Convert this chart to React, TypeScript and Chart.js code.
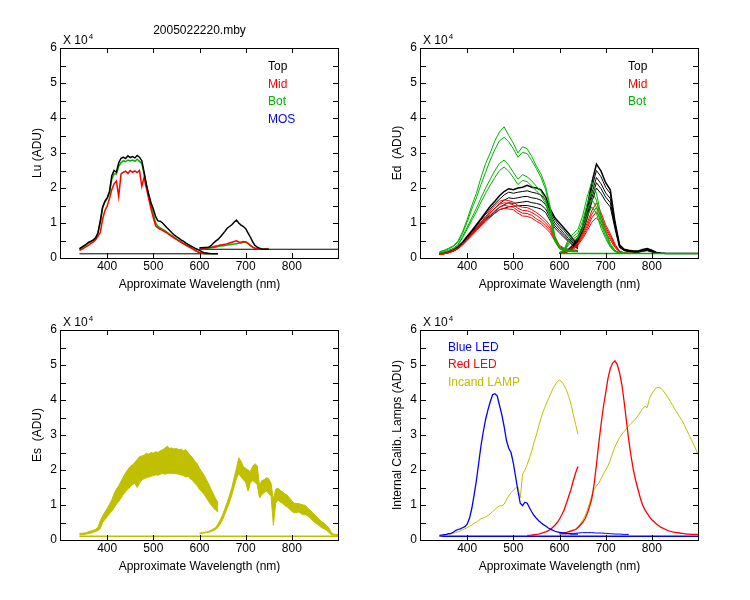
import React, { useEffect, useRef } from "react";
import { Chart, registerables } from "chart.js";

Chart.register(...registerables);

const FONT_FAMILY = "'Liberation Sans', Arial, Helvetica, sans-serif";
Chart.defaults.font.family = FONT_FAMILY;
Chart.defaults.font.size = 12;
Chart.defaults.color = "#000";

// ---------- colours ----------
const BLACK = "#000000";
const RED = "#FF0000";
const GREEN = "#00B000";
const BLUE = "#0000FF";
const OLIVE = "#C0C000";

// ---------- texts / axes ----------
const FILE_TITLE = "2005022220.mby";
const X_TITLE = "Approximate Wavelength (nm)";
const X_MIN = 300;
const X_MAX = 900;
const X_STEP = 100;
const Y_MIN = 0;
const Y_MAX = 6;
const Y_STEP = 0.5;
const EXP_LABEL = "X 10";
const EXP_POWER = "4";

const LU_LEGEND = ["Top", "Mid", "Bot", "MOS"];
const LU_LEGEND_COLORS = [BLACK, RED, GREEN, BLUE];
const ED_LEGEND = ["Top", "Mid", "Bot"];
const ED_LEGEND_COLORS = [BLACK, RED, GREEN];
const CAL_LEGEND = ["Blue LED", "Red LED", "Incand LAMP"];
const CAL_LEGEND_COLORS = [BLUE, RED, OLIVE];

// ---------- wavelength grids (nm) ----------
const WL_A5 = [340,345,350,355,360,365,370,375,380,385,390,395,400,405,410,415,420,425,430,435,440,445,450,455,460,465,470,475,480,485,490,495,500,505,510,515,520,525,530,535,540,545,550,555,560,565,570,575,580,585,590,595,600,605,610,615,620,625,630,635,640];
const WL_B5 = [600,605,610,615,620,625,630,635,640,645,650,655,660,665,670,675,680,685,690,695,700,705,710,715,720,725,730,735,740,745,750,755,760,765,770,775,780,785,790,795,800,805,810,815,820,825,830,835,840,845,850,855,860,865,870,875,880,885,890,895,900];
const WL_A10 = [340,350,360,370,380,390,400,410,420,430,440,450,460,470,480,490,500,510,520,530,540,550,560,570,580,590,600,610,620,630,640];
const WL_B10 = [600,610,620,630,640,650,660,670,680,690,700,710,720,730,740,750,760,770,780,790,800,810,820,830,840,850,860,870,880,890,900];
const WL_REDLED_A = [530,535,540,545,550,555,560,565,570,575,580,585,590,595,600,605,610,615,620,625,630,635,640];

// ---------- Lu (units of 1e4 ADU) ----------
const LU_TOP_A = [0.27,0.31,0.35,0.40,0.45,0.48,0.52,0.58,0.72,1.05,1.45,1.62,1.72,1.90,2.35,2.50,2.45,2.72,2.85,2.88,2.84,2.92,2.87,2.90,2.86,2.93,2.88,2.78,2.45,2.10,1.82,1.58,1.40,1.18,1.06,1.05,1.00,0.93,0.86,0.79,0.72,0.66,0.61,0.57,0.52,0.48,0.43,0.39,0.35,0.32,0.28,0.25,0.22,0.18,0.15,0.14,0.13,0.12,0.12,0.12,0.12];
const LU_MID_A = [0.22,0.25,0.29,0.33,0.37,0.42,0.46,0.52,0.62,0.72,1.10,1.35,1.48,1.70,1.95,2.12,2.20,1.75,2.40,2.45,2.48,2.42,2.50,2.45,2.49,2.44,2.50,2.05,2.30,2.00,1.70,1.40,1.15,0.92,0.86,0.82,0.79,0.75,0.71,0.66,0.62,0.57,0.53,0.49,0.45,0.41,0.37,0.33,0.30,0.26,0.22,0.18,0.15,0.14,0.13,0.13,0.12];
const LU_BOT_A = [0.25,0.29,0.33,0.38,0.43,0.47,0.50,0.56,0.70,1.02,1.42,1.60,1.70,1.86,2.25,2.40,2.40,2.62,2.72,2.78,2.75,2.80,2.77,2.80,2.76,2.82,2.76,2.70,2.40,2.05,1.75,1.50,1.25,1.00,0.90,0.86,0.82,0.78,0.73,0.68,0.64,0.59,0.55,0.50,0.46,0.42,0.38,0.34,0.31,0.27,0.23,0.19,0.16,0.14,0.13,0.12,0.12];
const LU_TOP_B = [0.29,0.29,0.30,0.30,0.31,0.35,0.42,0.48,0.53,0.60,0.68,0.76,0.85,0.90,0.95,1.02,1.08,1.00,0.94,0.90,0.84,0.72,0.60,0.47,0.36,0.31,0.28,0.26,0.25,0.25,0.25];
const LU_MID_B = [0.27,0.27,0.28,0.29,0.30,0.31,0.32,0.34,0.35,0.37,0.38,0.39,0.41,0.43,0.45,0.47,0.49,0.46,0.45,0.47,0.46,0.42,0.36,0.31,0.28,0.27,0.26,0.25,0.25,0.25,0.25];
const LU_BOT_B = [0.26,0.26,0.27,0.28,0.28,0.29,0.30,0.31,0.33,0.34,0.35,0.36,0.37,0.38,0.39,0.40,0.41,0.42,0.43,0.45,0.46,0.42,0.36,0.31,0.28,0.27,0.26,0.25,0.25,0.25,0.25];
const LU_DARK_A_WL = [340, 640];
const LU_DARK_A = [0.12, 0.12];
const LU_DARK_B_WL = [600, 900];
const LU_DARK_B = [0.25, 0.25];

// ---------- Ed ----------
const ED_TOP_A1 = [0.12,0.14,0.18,0.24,0.32,0.45,0.62,0.78,0.95,1.12,1.30,1.48,1.62,1.78,1.90,1.98,1.95,2.00,2.02,2.08,2.02,2.00,1.95,1.75,1.40,1.15,1.00,0.85,0.70,0.52,0.35];
const ED_TOP_A2 = [0.12,0.14,0.17,0.23,0.31,0.43,0.60,0.75,0.92,1.08,1.25,1.40,1.55,1.68,1.80,1.88,1.85,1.88,1.90,1.92,1.88,1.85,1.80,1.65,1.32,1.08,0.92,0.78,0.62,0.46,0.32];
const ED_TOP_A3 = [0.11,0.13,0.16,0.22,0.30,0.42,0.58,0.72,0.88,1.02,1.18,1.30,1.42,1.55,1.65,1.72,1.70,1.72,1.75,1.76,1.72,1.70,1.65,1.52,1.25,1.00,0.85,0.70,0.55,0.42,0.30];
const ED_TOP_A4 = [0.11,0.13,0.16,0.21,0.29,0.41,0.56,0.70,0.85,0.98,1.12,1.22,1.32,1.45,1.52,1.58,1.56,1.58,1.60,1.62,1.58,1.56,1.52,1.40,1.15,0.92,0.78,0.64,0.50,0.38,0.28];
const ED_TOP_A5 = [0.10,0.12,0.15,0.20,0.28,0.40,0.54,0.68,0.82,0.95,1.08,1.18,1.28,1.38,1.42,1.46,1.48,1.49,1.50,1.50,1.47,1.44,1.40,1.30,1.06,0.85,0.72,0.58,0.46,0.35,0.26];
const ED_MID_A1 = [0.11,0.13,0.16,0.21,0.28,0.40,0.55,0.70,0.86,1.02,1.18,1.35,1.50,1.62,1.66,1.64,1.60,1.50,1.45,1.44,1.38,1.30,1.20,1.08,0.92,0.62,0.36,0.28,0.25,0.23,0.22];
const ED_MID_A2 = [0.11,0.13,0.16,0.20,0.27,0.39,0.53,0.68,0.83,0.98,1.13,1.28,1.42,1.53,1.58,1.56,1.52,1.42,1.36,1.35,1.30,1.22,1.12,1.00,0.85,0.56,0.33,0.26,0.24,0.22,0.21];
const ED_MID_A3 = [0.10,0.12,0.15,0.20,0.27,0.38,0.52,0.66,0.80,0.94,1.08,1.22,1.35,1.45,1.50,1.48,1.45,1.35,1.28,1.27,1.22,1.12,1.04,0.92,0.78,0.52,0.30,0.25,0.23,0.21,0.20];
const ED_MID_A4 = [0.10,0.12,0.15,0.19,0.26,0.37,0.50,0.64,0.78,0.91,1.04,1.16,1.28,1.38,1.42,1.40,1.38,1.28,1.20,1.19,1.14,1.05,0.98,0.85,0.72,0.48,0.28,0.24,0.22,0.20,0.19];
const ED_BOT_A1 = [0.18,0.22,0.28,0.35,0.48,0.75,1.10,1.50,1.85,2.30,2.70,3.00,3.35,3.60,3.75,3.50,3.28,3.00,3.18,3.12,2.90,2.62,2.40,2.05,1.45,0.60,0.30,0.25,0.22,0.20,0.20];
const ED_BOT_A2 = [0.17,0.21,0.26,0.33,0.45,0.70,1.02,1.40,1.72,2.10,2.45,2.80,3.10,3.35,3.45,3.32,3.12,2.88,3.02,2.98,2.78,2.55,2.30,1.95,1.38,0.55,0.29,0.24,0.21,0.20,0.19];
const ED_BOT_A3 = [0.15,0.18,0.22,0.28,0.38,0.62,0.88,1.15,1.42,1.72,2.00,2.25,2.50,2.70,2.80,2.65,2.45,2.25,2.38,2.32,2.20,2.05,1.90,1.65,1.20,0.50,0.27,0.22,0.20,0.19,0.18];
const ED_BOT_A4 = [0.14,0.17,0.21,0.26,0.35,0.58,0.82,1.08,1.32,1.60,1.85,2.08,2.30,2.50,2.60,2.48,2.30,2.10,2.22,2.18,2.05,1.92,1.78,1.55,1.12,0.48,0.26,0.21,0.19,0.18,0.18];
const ED_TOP_B1 = [0.15,0.18,0.25,0.38,0.58,0.90,1.45,2.15,2.68,2.48,2.15,1.95,1.05,0.38,0.25,0.22,0.20,0.20,0.24,0.27,0.22,0.16,0.14,0.13,0.13,0.13,0.13,0.13,0.13,0.13,0.13];
const ED_TOP_B2 = [0.15,0.17,0.21,0.33,0.52,0.85,1.38,2.00,2.50,2.32,2.02,1.84,1.00,0.36,0.24,0.21,0.19,0.19,0.22,0.25,0.20,0.15,0.13,0.13];
const ED_TOP_B3 = [0.14,0.16,0.20,0.31,0.50,0.80,1.28,1.85,2.30,2.12,1.86,1.70,0.95,0.34,0.23,0.20,0.18,0.18,0.21,0.23,0.19,0.14,0.13,0.13];
const ED_TOP_B4 = [0.14,0.16,0.19,0.30,0.48,0.76,1.20,1.72,2.15,1.98,1.74,1.58,0.90,0.32,0.22,0.19,0.17,0.17,0.20,0.22,0.18,0.14,0.13,0.13];
const ED_TOP_B5 = [0.14,0.15,0.19,0.29,0.46,0.72,1.12,1.60,2.00,1.84,1.62,1.46,0.85,0.30,0.21,0.18,0.16,0.16,0.19,0.21,0.17,0.14,0.13,0.13];
const ED_MID_B1 = [0.15,0.17,0.22,0.30,0.45,0.70,1.00,1.35,1.58,1.30,0.95,0.70,0.40,0.20,0.15,0.14,0.13];
const ED_MID_B2 = [0.15,0.17,0.21,0.28,0.42,0.65,0.92,1.25,1.45,1.20,0.88,0.64,0.36,0.19,0.15,0.14,0.13];
const ED_MID_B3 = [0.14,0.16,0.20,0.27,0.40,0.60,0.85,1.15,1.32,1.10,0.82,0.58,0.33,0.18,0.14,0.13,0.13];
const ED_MID_B4 = [0.14,0.16,0.19,0.25,0.37,0.55,0.78,1.02,1.15,0.98,0.74,0.52,0.30,0.17,0.14,0.13,0.13];
const ED_BOT_B1 = [0.15,0.25,0.55,0.70,0.82,1.20,1.75,2.18,1.85,1.20,0.78,0.42,0.22,0.15,0.14,0.13,0.13];
const ED_BOT_B2 = [0.15,0.23,0.48,0.62,0.72,1.05,1.55,1.92,1.65,1.08,0.70,0.38,0.20,0.15,0.14,0.13,0.13];
const ED_BOT_B3 = [0.14,0.21,0.42,0.55,0.64,0.92,1.36,1.68,1.45,0.96,0.62,0.34,0.19,0.14,0.13,0.13,0.13];
const ED_BOT_B4 = [0.14,0.20,0.38,0.50,0.58,0.82,1.20,1.46,1.28,0.85,0.56,0.31,0.18,0.14,0.13,0.13,0.13];
const ED_DARK_B_WL = [600, 900];
const ED_DARK_B = [0.13, 0.13];

// ---------- Es (band of scans: upper / lower envelope) ----------
const ES_UP_A = [0.19,0.19,0.20,0.21,0.24,0.26,0.28,0.31,0.36,0.55,0.68,0.80,0.90,1.02,1.15,1.32,1.45,1.55,1.68,1.80,1.92,2.02,2.10,2.15,2.22,2.30,2.38,2.40,2.42,2.48,2.45,2.50,2.48,2.52,2.50,2.55,2.58,2.62,2.68,2.62,2.63,2.60,2.62,2.58,2.60,2.55,2.58,2.50,2.42,2.35,2.25,2.18,2.05,1.95,1.85,1.72,1.60,1.45,1.32,1.18,1.08];
const ES_LO_A = [0.15,0.15,0.16,0.17,0.18,0.20,0.22,0.24,0.27,0.32,0.50,0.58,0.66,0.75,0.82,0.92,1.02,1.10,1.20,1.30,1.38,1.46,1.52,1.58,1.62,1.50,1.62,1.72,1.75,1.78,1.80,1.82,1.84,1.86,1.85,1.88,1.90,1.88,1.90,1.91,1.90,1.90,1.89,1.88,1.86,1.84,1.80,1.82,1.75,1.70,1.62,1.55,1.45,1.38,1.30,1.20,1.10,1.00,0.92,0.85,0.80];
const ES_UP_B = [0.20,0.21,0.22,0.23,0.25,0.28,0.32,0.36,0.45,0.58,0.72,0.90,1.08,1.28,1.50,1.78,2.05,2.35,2.25,2.10,2.05,2.00,1.95,2.10,2.18,2.12,1.55,1.70,1.72,1.78,1.75,1.62,1.15,1.45,1.48,1.42,1.38,1.32,1.28,1.20,1.12,1.05,1.05,1.04,1.02,1.00,0.98,0.90,0.85,0.78,0.72,0.65,0.58,0.52,0.48,0.42,0.35,0.22,0.17,0.16,0.16];
const ES_LO_B = [0.18,0.19,0.20,0.21,0.22,0.24,0.27,0.30,0.36,0.46,0.58,0.74,0.90,1.08,1.28,1.52,1.75,1.90,1.80,1.72,1.65,1.40,1.62,1.70,1.65,1.58,1.20,1.30,1.35,1.40,1.32,1.25,0.42,1.05,1.15,1.08,1.05,0.98,0.95,0.88,0.82,0.78,0.78,0.80,0.75,0.72,0.72,0.68,0.62,0.55,0.50,0.45,0.40,0.35,0.32,0.28,0.22,0.15,0.14,0.13,0.13];
const ES_DARK_WL = [340, 900];
const ES_DARK = [0.11, 0.11];

// ---------- Internal calibration lamps ----------
const CAL_BLUE_A = [0.13,0.14,0.15,0.16,0.18,0.19,0.22,0.27,0.30,0.32,0.35,0.38,0.45,0.62,0.90,1.28,1.70,2.20,2.70,3.10,3.45,3.72,3.95,4.15,4.18,4.12,3.85,3.58,3.25,2.85,2.62,2.50,2.20,1.80,1.40,1.05,0.98,1.08,1.05,0.92,0.80,0.70,0.62,0.55,0.49,0.44,0.40,0.35,0.31,0.28,0.25,0.23,0.22,0.21,0.20,0.19,0.18,0.17,0.17,0.17,0.17];
const CAL_BLUE_B = [0.17,0.17,0.18,0.19,0.20,0.21,0.21,0.21,0.20,0.20,0.19,0.18,0.17,0.17,0.16,0.16];
const CAL_RED_A = [0.13,0.13,0.14,0.15,0.16,0.17,0.19,0.21,0.23,0.26,0.30,0.36,0.42,0.50,0.60,0.72,0.86,1.05,1.25,1.45,1.70,1.92,2.10];
const CAL_RED_B = [0.18,0.19,0.20,0.22,0.24,0.26,0.28,0.30,0.36,0.42,0.50,0.60,0.75,0.95,1.18,1.60,2.15,2.75,3.30,3.80,4.20,4.62,4.90,5.05,5.12,5.02,4.78,4.45,3.95,3.40,2.85,2.40,2.00,1.70,1.45,1.20,1.00,0.86,0.76,0.66,0.58,0.52,0.46,0.41,0.36,0.33,0.30,0.27,0.25,0.23,0.22,0.21,0.20,0.19,0.18,0.17,0.17,0.16,0.16,0.16,0.16];
const CAL_INC_A = [0.11,0.12,0.13,0.14,0.15,0.17,0.19,0.21,0.23,0.26,0.29,0.32,0.35,0.39,0.43,0.47,0.51,0.56,0.61,0.63,0.66,0.70,0.75,0.81,0.87,0.93,0.98,0.98,1.02,1.15,1.26,1.35,1.42,1.48,1.52,1.20,1.88,2.00,2.15,2.35,2.55,2.80,3.00,3.25,3.48,3.68,3.85,4.00,4.15,4.30,4.42,4.52,4.57,4.52,4.42,4.28,4.10,3.88,3.58,3.30,3.02];
const CAL_INC_B = [0.14,0.15,0.17,0.19,0.21,0.24,0.27,0.31,0.38,0.46,0.56,0.68,0.85,1.05,1.28,1.45,1.55,1.62,1.75,1.88,2.00,2.12,2.28,2.48,2.66,2.80,2.92,3.02,3.10,3.18,3.26,3.33,3.40,3.46,3.55,3.65,3.75,3.82,3.78,4.05,4.18,4.28,4.35,4.36,4.33,4.26,4.17,4.07,3.96,3.85,3.73,3.63,3.52,3.42,3.30,3.15,3.02,2.88,2.75,2.60,2.44];
const CAL_DARK_WL = [340, 900];
const CAL_DARK = [0.11, 0.11];

// ---------- helpers ----------
const CANVAS_W = 375;
const CANVAS_H = 300;
const TICK_LEN = 5;

const pts = (xs: number[], ys: number[]) =>
  ys.slice(0, xs.length).map((y, i) => ({ x: xs[i], y }));

function line(xs: number[], ys: number[], color: string, width = 1, extra: any = {}) {
  return {
    data: pts(xs, ys),
    borderColor: color,
    backgroundColor: color,
    borderWidth: width,
    pointRadius: 0,
    fill: false,
    tension: 0,
    ...extra,
  };
}

// first item in the list is painted first (bottom-most)
const paintOrder = (list: any[]) => list.slice().reverse();

const framePlugin = {
  id: "frame",
  afterDatasetsDraw(chart: any, _args: any, opts: any) {
    const { ctx, chartArea } = chart;
    const xs = chart.scales.x;
    const ys = chart.scales.y;
    const L = Math.round(chartArea.left);
    const R = Math.round(chartArea.right);
    const T = Math.round(chartArea.top);
    const B = Math.round(chartArea.bottom);
    ctx.save();
    ctx.strokeStyle = "#000";
    ctx.lineWidth = 1;
    ctx.strokeRect(L - 0.5, T + 0.5, R - L + 1, B - T);
    ctx.beginPath();
    for (const t of xs.ticks) {
      if (t.value <= xs.min || t.value >= xs.max) continue;
      const px = Math.round(xs.getPixelForValue(t.value)) + 0.5;
      ctx.moveTo(px, B);
      ctx.lineTo(px, B - TICK_LEN);
      ctx.moveTo(px, T);
      ctx.lineTo(px, T + TICK_LEN);
    }
    for (const t of ys.ticks) {
      if (t.value <= ys.min || t.value >= ys.max) continue;
      const py = Math.round(ys.getPixelForValue(t.value)) + 0.5;
      ctx.moveTo(L, py);
      ctx.lineTo(L + TICK_LEN, py);
      ctx.moveTo(R, py);
      ctx.lineTo(R - TICK_LEN, py);
    }
    ctx.stroke();

    ctx.fillStyle = "#000";
    ctx.textAlign = "left";
    ctx.textBaseline = "alphabetic";
    ctx.font = `12px ${FONT_FAMILY}`;
    ctx.fillText(EXP_LABEL, L + 2, T - 4);
    const w = ctx.measureText(EXP_LABEL).width;
    ctx.font = `8px ${FONT_FAMILY}`;
    ctx.fillText(EXP_POWER, L + 2 + w + 1, T - 9);

    ctx.font = `12px ${FONT_FAMILY}`;
    if (opts && opts.title) {
      ctx.textAlign = "center";
      ctx.fillText(opts.title, (L + R) / 2, T - 14);
      ctx.textAlign = "left";
    }
    if (opts && opts.labels) {
      const labels: string[] = opts.labels;
      const colors: string[] = opts.colors;
      for (let i = 0; i < labels.length; i++) {
        ctx.fillStyle = colors[i];
        ctx.fillText(labels[i], L + opts.dx, T + opts.dy + i * opts.step);
      }
    }
    ctx.restore();
  },
};

function makeConfig(datasets: any[], yTitle: string, frame: any) {
  return {
    type: "line",
    data: { datasets },
    options: {
      responsive: false,
      animation: false,
      events: [],
      layout: { padding: { top: 48, right: 37, bottom: 0, left: 0 } },
      plugins: {
        legend: { display: false },
        tooltip: { enabled: false },
        frame,
      },
      scales: {
        x: {
          type: "linear",
          min: X_MIN,
          max: X_MAX,
          grid: { display: false, drawTicks: false },
          border: { display: false },
          ticks: {
            stepSize: X_STEP,
            autoSkip: false,
            maxRotation: 0,
            padding: 1,
            color: "#000",
            font: { size: 12 },
            callback: (v: any) => (v > X_MIN && v < X_MAX ? String(v) : ""),
          },
          title: {
            display: true,
            text: X_TITLE,
            color: "#000",
            font: { size: 12 },
            padding: { top: 0, bottom: 8 },
          },
          afterFit: (s: any) => {
            s.height = 42;
          },
        },
        y: {
          type: "linear",
          min: Y_MIN,
          max: Y_MAX,
          grid: { display: false, drawTicks: false },
          border: { display: false },
          ticks: {
            stepSize: Y_STEP,
            autoSkip: false,
            padding: 4,
            color: "#000",
            font: { size: 12 },
            callback: (v: any) => (Number.isInteger(v) ? String(v) : ""),
          },
          title: {
            display: true,
            text: yTitle,
            color: "#000",
            font: { size: 12 },
            padding: { top: 30, bottom: 0 },
          },
          afterFit: (s: any) => {
            s.width = 61;
          },
        },
      },
    },
    plugins: [framePlugin],
  };
}

const buildLu = () =>
  makeConfig(
    paintOrder([
      line(LU_DARK_A_WL, LU_DARK_A, BLACK, 1),
      line(LU_DARK_B_WL, LU_DARK_B, BLACK, 1),
      line(WL_A5, LU_BOT_A, GREEN, 1.5),
      line(WL_B5, LU_BOT_B, GREEN, 1.5),
      line(WL_A5, LU_MID_A, RED, 1.5),
      line(WL_B5, LU_MID_B, RED, 1.5),
      line(WL_A5, LU_TOP_A, BLACK, 1.5),
      line(WL_B5, LU_TOP_B, BLACK, 1.5),
    ]),
    "Lu (ADU)",
    { title: FILE_TITLE, labels: LU_LEGEND, colors: LU_LEGEND_COLORS, dx: 207, dy: 22, step: 17.5 }
  );

const buildEd = () =>
  makeConfig(
    paintOrder([
      line(WL_A10, ED_TOP_A1, BLACK, 1.5),
      line(WL_A10, ED_TOP_A2, BLACK, 1),
      line(WL_A10, ED_TOP_A3, BLACK, 1),
      line(WL_A10, ED_TOP_A4, BLACK, 1),
      line(WL_A10, ED_TOP_A5, BLACK, 1),
      line(WL_B10, ED_TOP_B1, BLACK, 1.5),
      line(WL_B10, ED_TOP_B2, BLACK, 1),
      line(WL_B10, ED_TOP_B3, BLACK, 1),
      line(WL_B10, ED_TOP_B4, BLACK, 1),
      line(WL_B10, ED_TOP_B5, BLACK, 1),
      line(WL_A10, ED_MID_A1, RED, 1),
      line(WL_A10, ED_MID_A2, RED, 1),
      line(WL_A10, ED_MID_A3, RED, 1),
      line(WL_A10, ED_MID_A4, RED, 1),
      line(WL_B10, ED_MID_B1, RED, 1),
      line(WL_B10, ED_MID_B2, RED, 1),
      line(WL_B10, ED_MID_B3, RED, 1),
      line(WL_B10, ED_MID_B4, RED, 1),
      line(WL_A10, ED_BOT_A1, GREEN, 1),
      line(WL_A10, ED_BOT_A2, GREEN, 1),
      line(WL_A10, ED_BOT_A3, GREEN, 1),
      line(WL_A10, ED_BOT_A4, GREEN, 1),
      line(WL_B10, ED_BOT_B1, GREEN, 1),
      line(WL_B10, ED_BOT_B2, GREEN, 1),
      line(WL_B10, ED_BOT_B3, GREEN, 1),
      line(WL_B10, ED_BOT_B4, GREEN, 1),
      line(ED_DARK_B_WL, ED_DARK_B, GREEN, 1.5),
    ]),
    "Ed  (ADU)",
    { labels: ED_LEGEND, colors: ED_LEGEND_COLORS, dx: 207, dy: 22, step: 17.5 }
  );

const buildEs = () =>
  makeConfig(
    [
      line(WL_A5, ES_UP_A, OLIVE, 1, { fill: "+1" }),
      line(WL_A5, ES_LO_A, OLIVE, 1),
      line(WL_B5, ES_UP_B, OLIVE, 1, { fill: "+1" }),
      line(WL_B5, ES_LO_B, OLIVE, 1),
      line(ES_DARK_WL, ES_DARK, OLIVE, 1.5),
    ],
    "Es  (ADU)",
    {}
  );

const buildCal = () =>
  makeConfig(
    paintOrder([
      line(CAL_DARK_WL, CAL_DARK, BLUE, 1.5),
      line(WL_B10, CAL_BLUE_B, BLUE, 1),
      line(WL_A5, CAL_INC_A, OLIVE, 1),
      line(WL_B5, CAL_INC_B, OLIVE, 1),
      line(WL_REDLED_A, CAL_RED_A, RED, 1.3),
      line(WL_B5, CAL_RED_B, RED, 1.3),
      line(WL_A5, CAL_BLUE_A, BLUE, 1.3),
    ]),
    "Internal Calib. Lamps (ADU)",
    { labels: CAL_LEGEND, colors: CAL_LEGEND_COLORS, dx: 27, dy: 21, step: 17.3 }
  );

function ChartPanel({ left, top, build }: { left: number; top: number; build: () => any }) {
  const ref = useRef<HTMLCanvasElement | null>(null);
  useEffect(() => {
    if (!ref.current) return;
    const chart = new Chart(ref.current, build());
    return () => chart.destroy();
  }, [build]);
  return (
    <canvas
      ref={ref}
      width={CANVAS_W}
      height={CANVAS_H}
      style={{ position: "absolute", left, top, width: CANVAS_W, height: CANVAS_H }}
    />
  );
}

export default function App() {
  return (
    <div style={{ position: "absolute", left: 0, top: 0, width: 750, height: 600, background: "#fff" }}>
      <ChartPanel left={0} top={0} build={buildLu} />
      <ChartPanel left={360} top={0} build={buildEd} />
      <ChartPanel left={0} top={282} build={buildEs} />
      <ChartPanel left={360} top={282} build={buildCal} />
    </div>
  );
}
